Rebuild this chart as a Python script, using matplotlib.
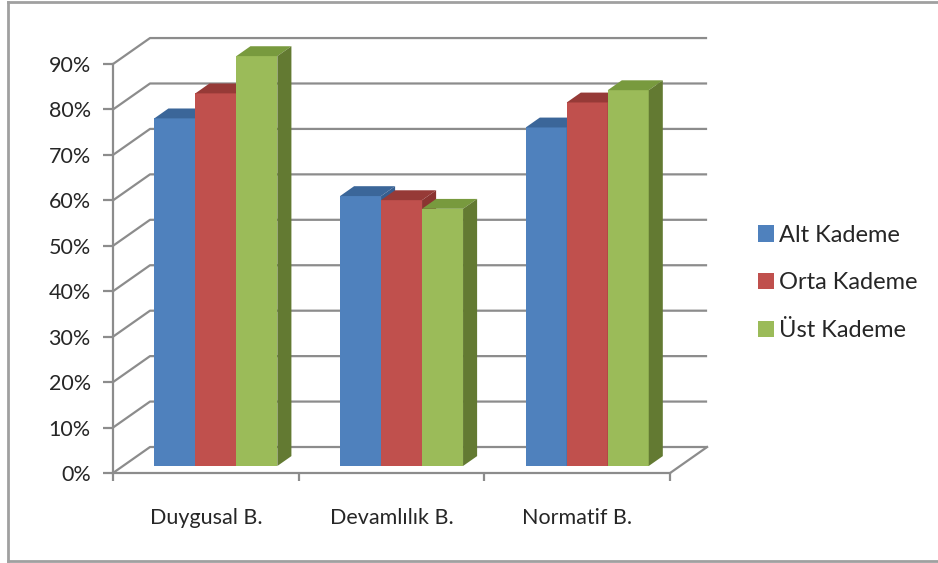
import matplotlib
matplotlib.use("Agg")
import matplotlib.pyplot as plt
from matplotlib.patches import Polygon, Patch
from matplotlib.lines import Line2D
from matplotlib.ticker import PercentFormatter

plt.rcParams['font.family'] = ['Lato', 'DejaVu Sans']

categories = ["Duygusal B.", "Devamlılık B.", "Normatif B."]
series_names = ["Alt Kademe", "Orta Kademe", "Üst Kademe"]
alt_kademe = [0.765, 0.594, 0.745]
orta_kademe = [0.820, 0.585, 0.800]
ust_kademe = [0.902, 0.566, 0.827]
y_ticks = [0.0, 0.1, 0.2, 0.3, 0.4, 0.5, 0.6, 0.7, 0.8, 0.9]

series_values = [alt_kademe, orta_kademe, ust_kademe]
front_colors = ["#4F81BD", "#C0504D", "#9BBB59"]
top_colors = ["#3B6699", "#963A37", "#789A3E"]
side_colors = ["#365E8F", "#8B3431", "#637A32"]

grid_color = "#8C8C8C"
W, H = 938, 563
fig = plt.figure(figsize=(W / 100, H / 100), dpi=100)

# oblique depth of the plot box, in data units
DX, DY = 0.1993, 0.0572
XMAX, YMAX = 3 + DX, 0.9 + DY

# pixel placement of the front plane
px_left, px_right = 113, 113 + XMAX * 185.7
px_bottom, px_top = 473, 473 - YMAX * 454.4
ax = fig.add_axes([px_left / W, 1 - px_bottom / H,
                   (px_right - px_left) / W, (px_bottom - px_top) / H])
ax.set_xlim(0, XMAX)
ax.set_ylim(0, YMAX)
ax.patch.set_visible(False)

# gridlines: side wall diagonal + back wall horizontal
for v in y_ticks:
    ax.plot([0, DX, XMAX], [v, v + DY, v + DY], color=grid_color, lw=1.6,
            solid_capstyle="butt", zorder=1, clip_on=False)
# floor right edge
ax.plot([3, XMAX], [0, DY], color=grid_color, lw=1.6, zorder=1, clip_on=False)

# bars
bw = 0.2208
d0, d1 = 0.27, 0.65
for i in range(len(categories)):
    for j, vals in enumerate(series_values):
        v = vals[i]
        x0 = i + 0.5 - 1.5 * bw + j * bw
        xa, ya = x0 + d0 * DX, d0 * DY
        xb, yb = x0 + d1 * DX, d1 * DY
        front = Polygon([(xa, ya), (xa + bw, ya), (xa + bw, ya + v), (xa, ya + v)],
                        closed=True, fc=front_colors[j], ec="none", zorder=3 + i * 3 + j)
        top = Polygon([(xa, ya + v), (xa + bw, ya + v), (xb + bw, yb + v), (xb, yb + v)],
                      closed=True, fc=top_colors[j], ec="none", zorder=3 + i * 3 + j)
        side = Polygon([(xa + bw, ya), (xb + bw, yb), (xb + bw, yb + v), (xa + bw, ya + v)],
                       closed=True, fc=side_colors[j], ec="none", zorder=3 + i * 3 + j)
        for p in (front, top, side):
            p.set_clip_on(False)
            ax.add_patch(p)

# axes: front value axis and category axis
for s in ("top", "right"):
    ax.spines[s].set_visible(False)
ax.spines["left"].set_bounds(0, 0.9)
ax.spines["bottom"].set_bounds(0, 3)
for s in ("left", "bottom"):
    ax.spines[s].set_color(grid_color)
    ax.spines[s].set_linewidth(1.6)
    ax.spines[s].set_zorder(2)

ax.set_yticks(y_ticks)
ax.yaxis.set_major_formatter(PercentFormatter(1.0, decimals=0))
ax.tick_params(axis="y", direction="out", length=7, width=1.6, color=grid_color,
               labelsize=15.5, labelcolor="#262626", pad=9)

ax.set_xticks([0, 1, 2, 3])
ax.set_xticklabels([])
ax.set_xticks([0.5, 1.5, 2.5], minor=True)
ax.set_xticklabels(categories, minor=True)
ax.tick_params(axis="x", which="major", direction="out", length=6, width=1.6,
               color=grid_color)
ax.tick_params(axis="x", which="minor", length=0, labelsize=15.5,
               labelcolor="#262626", pad=25)

# legend
handles = [Patch(facecolor=c, edgecolor="none") for c in front_colors]
fig.legend(handles, series_names, loc="center left",
           bbox_to_anchor=(737 / W, 1 - 283 / H), frameon=False,
           fontsize=17, labelcolor="#262626", handlelength=0.68,
           handleheight=0.68, handletextpad=0.18, labelspacing=1.13)

# chart border
border = "#A0A0A0"
fig.add_artist(Line2D([8 / W, 8 / W], [1 - 2 / H, 1 - 561 / H], color=border, lw=2,
                      transform=fig.transFigure))
fig.add_artist(Line2D([8 / W, 1], [1 - 2 / H, 1 - 2 / H], color=border, lw=2,
                      transform=fig.transFigure))
fig.add_artist(Line2D([8 / W, 1], [1 - 561 / H, 1 - 561 / H], color=border, lw=2,
                      transform=fig.transFigure))

fig.savefig("out.png", dpi=100)
